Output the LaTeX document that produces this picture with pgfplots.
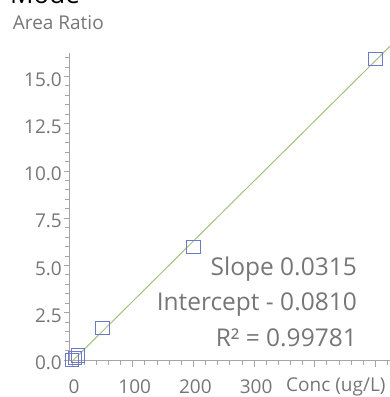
\documentclass[border=0pt]{standalone}
\usepackage{fontspec}
\setmainfont{Open Sans}
\usepackage{pgfplots}
\pgfplotsset{compat=1.18}
\definecolor{txt}{RGB}{118,118,118}
\definecolor{axl}{RGB}{165,165,165}
\definecolor{fitg}{RGB}{160,195,125}
\definecolor{mk}{RGB}{110,120,200}
\begin{document}
\begin{tikzpicture}
\useasboundingbox (-70bp,-36.3bp) rectangle (320bp,360.7bp);
\begin{axis}[
  at={(0,0)}, anchor=south west,
  scale only axis, width=320bp, height=307.7bp,
  xmin=-3.3, xmax=524, ymin=-0.04, ymax=16.24,
  axis lines*=left,
  axis line style={draw=axl, line width=1bp},
  xtick={0,100,200,300,400,500}, xticklabels={0,100,200,300,{},{}},
  minor xtick={20,40,...,520},
  ytick={0,2.5,5,7.5,10,12.5,15},
  minor ytick={0.5,1,...,16},
  tick align=outside,
  tick style={draw=axl, line width=0.8bp},
  major tick length=6bp, minor tick length=4.5bp,
  tick label style={font=\fontsize{19bp}{22bp}\selectfont, text=txt},
  /pgf/number format/assume math mode=true,
  yticklabel style={/pgf/number format/.cd, fixed, fixed zerofill, precision=1, /tikz/.cd, inner sep=2bp, yshift=-3bp},
  xticklabel style={inner sep=0.5bp, yshift=-12.5bp, xshift=2bp},
  clip=false,
]
\addplot[fitg, line width=1bp] coordinates {(0,-0.081) (524,16.6)};
\addplot[only marks, mark=square, mark size=6.8bp, mark options={draw=mk, line width=1bp, fill=none}]
  coordinates {(0,0.0) (5,0.1) (10,0.25) (50,1.69) (200,5.98) (500,15.93)};
\end{axis}
\node[anchor=base west, inner sep=0, font=\fontsize{26bp}{30bp}\selectfont, text=black] at (-60bp,356.7bp) {Mode};
\node[anchor=base west, inner sep=0, font=\fontsize{19bp}{22bp}\selectfont, text=txt] at (-57.3bp,330.7bp) {Area Ratio};
\node[anchor=base east, inner sep=0, font=\fontsize{19bp}{22bp}\selectfont, text=txt] at (315.7bp,-30.5bp) {Conc (ug/L)};
\node[anchor=base east, inner sep=0, font=\fontsize{24.5bp}{28bp}\selectfont, text=txt] at (287bp,84.7bp) {Slope 0.0315};
\node[anchor=base east, inner sep=0, font=\fontsize{24.5bp}{28bp}\selectfont, text=txt] at (287bp,49.7bp) {Intercept - 0.0810};
\node[anchor=base east, inner sep=0, font=\fontsize{24.5bp}{28bp}\selectfont, text=txt] at (287bp,14bp) {R² = 0.99781};
\end{tikzpicture}
\end{document}
